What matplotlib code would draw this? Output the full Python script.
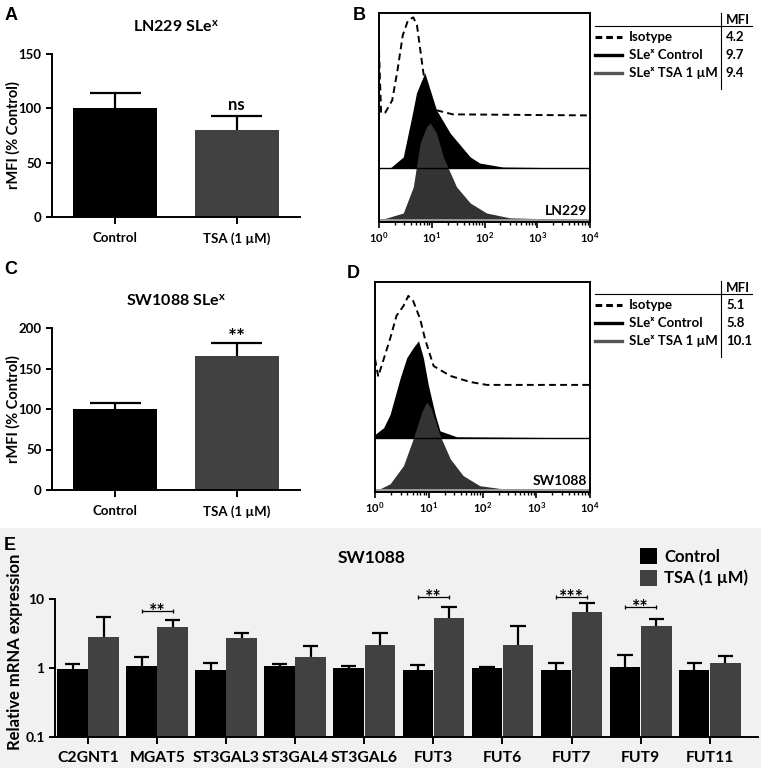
import matplotlib
matplotlib.use("Agg")
import matplotlib.pyplot as plt
import numpy as np
from matplotlib.lines import Line2D
from matplotlib.patches import Rectangle

plt.rcParams['font.family'] = ['Lato', 'DejaVu Sans']
plt.rcParams['font.weight'] = 'bold'
plt.rcParams['mathtext.fontset'] = 'custom'
plt.rcParams['mathtext.rm'] = 'Lato:bold'
plt.rcParams['mathtext.bf'] = 'Lato:bold'
plt.rcParams['mathtext.it'] = 'Lato:italic'
plt.rcParams['axes.linewidth'] = 1.4

CTRL = "black"
TSA = "#414141"
W, H = 761, 768

# ---- panels A / C : rMFI bars ----
bar_labels = ["Control", "TSA (1 µM)"]
ln229_mean = [100, 80]
ln229_top = [114, 93]
sw1088_mean = [100, 165]
sw1088_top = [108, 182]

# ---- panels B / D : flow histograms (log10 intensity, height in % of box) ----
b_iso_log = [0.0, 0.04, 0.12, 0.25, 0.35, 0.45, 0.55, 0.65, 0.72, 0.84, 0.95, 1.1, 1.4, 4.0]
b_iso_h = [31.1, 1.0, 1.4, 7.2, 21.5, 38.3, 45.5, 46.9, 43.1, 20.6, 7.2, 2.4, 0.5, 0.0]
b_ctrl_log = [0.0, 0.21, 0.46, 0.62, 0.71, 0.81, 0.87, 1.09, 1.35, 1.73, 1.91, 2.35, 4.0]
b_ctrl_h = [0.0, 0.0, 5.3, 24.4, 35.9, 42.1, 45.5, 27.8, 16.7, 5.3, 2.4, 0.5, 0.0]
b_tsa_log = [0.02, 0.46, 0.65, 0.78, 0.90, 0.97, 1.09, 1.22, 1.47, 1.73, 2.04, 2.48, 4.0]
b_tsa_h = [0.0, 3.3, 15.8, 36.8, 44.5, 46.4, 41.6, 30.1, 15.8, 8.1, 3.3, 1.0, 0.0]
b_mfi = ["4.2", "9.7", "9.4"]

d_iso_log = [0.0, 0.06, 0.28, 0.40, 0.53, 0.62, 0.71, 0.84, 0.93, 1.09, 1.40, 1.77, 2.08, 4.0]
d_iso_h = [12.4, 4.0, 21.9, 32.9, 37.6, 42.4, 40.0, 31.4, 21.9, 9.0, 4.3, 1.4, 0.0, 0.0]
d_ctrl_log = [0.0, 0.16, 0.28, 0.47, 0.59, 0.71, 0.81, 0.90, 0.99, 1.12, 1.21, 1.52, 4.0]
d_ctrl_h = [1.6, 4.8, 11.1, 28.6, 38.1, 42.9, 46.2, 38.1, 25.4, 11.1, 3.3, 0.5, 0.0]
d_tsa_log = [0.09, 0.28, 0.53, 0.71, 0.87, 0.96, 1.05, 1.21, 1.40, 1.64, 1.95, 2.38, 4.0]
d_tsa_h = [0.5, 2.9, 11.6, 24.3, 37.1, 41.9, 38.6, 25.9, 14.8, 6.8, 2.0, 0.5, 0.0]
d_mfi = ["5.1", "5.8", "10.1"]

legend_rows = ["Isotype", "SLeˣ Control", "SLeˣ TSA 1 µM"]

# ---- panel E : qPCR ----
genes = ["C2GNT1", "MGAT5", "ST3GAL3", "ST3GAL4", "ST3GAL6",
         "FUT3", "FUT6", "FUT7", "FUT9", "FUT11"]
ctrl_mean = [0.97, 1.07, 0.94, 1.07, 1.00, 0.94, 0.99, 0.93, 1.02, 0.94]
ctrl_top = [1.15, 1.44, 1.18, 1.14, 1.07, 1.10, 1.05, 1.18, 1.53, 1.20]
tsa_mean = [2.80, 3.93, 2.72, 1.44, 2.15, 5.30, 2.15, 6.50, 4.00, 1.18]
tsa_top = [5.50, 4.96, 3.20, 2.08, 3.20, 7.60, 4.06, 8.70, 5.20, 1.50]
sig_genes = ["MGAT5", "FUT3", "FUT7", "FUT9"]
sig_marks = ["**", "**", "***", "**"]
sig_y = [6.7, 10.7, 10.7, 7.6]


def rect(x0, y0, x1, y1):
    """pixel box (top-left origin) -> figure fraction rect"""
    return [x0 / W, 1 - y1 / H, (x1 - x0) / W, (y1 - y0) / H]


def fpt(x, y):
    return x / W, 1 - y / H


fig = plt.figure(figsize=(W / 100, H / 100), dpi=100)
fig.add_artist(Rectangle((0, 0), 1, 1 - 528 / H, transform=fig.transFigure,
                         facecolor="#f1f1f1", edgecolor="none", zorder=-10))


def bar_panel(box, mean, top, ymax, ystep, title, mark, mark_size, mark_dy):
    ax = fig.add_axes(rect(*box))
    x = np.arange(len(mean))
    ax.bar(x, mean, width=0.69, color=[CTRL, TSA], zorder=2)
    ax.vlines(x, mean, top, color="black", lw=1.6, zorder=3)
    ax.hlines(top, x - 0.21, x + 0.21, color="black", lw=1.6, zorder=3)
    ax.annotate(mark, (1, top[1]), xytext=(0, mark_dy), textcoords="offset points",
                ha="center", va="baseline", fontsize=mark_size, fontweight="bold")
    ax.set_xlim(-0.52, 1.52)
    ax.set_ylim(0, ymax)
    ax.set_yticks(np.arange(0, ymax + 1, ystep))
    ax.set_xticks(x)
    ax.set_xticklabels(bar_labels, fontsize=10.5, fontweight="bold")
    ax.tick_params(labelsize=9.5, width=1.4, length=4, direction="out")
    ax.tick_params(axis="x", length=5, pad=6)
    for lab in ax.get_yticklabels():
        lab.set_fontweight("bold")
    ax.spines[["top", "right"]].set_visible(False)
    ax.set_ylabel("rMFI (% Control)", fontsize=10.5, fontweight="bold")
    ax.yaxis.set_label_coords(-0.128, 0.5)
    ax.set_title(title, fontsize=11.5, fontweight="bold", pad=16)
    return ax


bar_panel((52, 54, 300, 217), ln229_mean, ln229_top, 150, 50,
          r"LN229 SLe$^{\mathbf{x}}$", "ns", 12, 4)
bar_panel((52, 328, 300, 490), sw1088_mean, sw1088_top, 200, 50,
          r"SW1088 SLe$^{\mathbf{x}}$", "**", 15, -1)


def hist_panel(box, iso, ctrl, tsa, name):
    ax = fig.add_axes(rect(*box))
    ax.set_xscale("log")
    ax.set_xlim(1, 1e4)
    ax.set_ylim(0, 100)
    iso_off, ctrl_off, tsa_off = 51.0, 25.8, 1.0
    ix = np.power(10.0, iso[0])
    ax.plot(ix, iso_off + np.array(iso[1]), ls=(0, (3.5, 2.2)), color="black", lw=1.4)
    ax.axhline(ctrl_off, color="black", lw=1.0)
    cx = np.power(10.0, ctrl[0])
    ax.fill_between(cx, ctrl_off, ctrl_off + np.array(ctrl[1]), color="black", lw=0)
    ax.axhline(tsa_off, color="#9a9a9a", lw=1.4)
    tx = np.power(10.0, tsa[0])
    ax.fill_between(tx, tsa_off, tsa_off + np.array(tsa[1]), color="#333333", lw=0)
    ax.set_yticks([])
    ax.tick_params(axis="x", which="major", direction="out", length=4, width=1.2,
                   labelsize=8, pad=2)
    ax.tick_params(axis="x", which="minor", direction="out", length=2.5, width=1.0)
    ax.text(0.985, 0.025, name, transform=ax.transAxes, ha="right", va="bottom",
            fontsize=10, fontweight="bold")
    return ax


hist_panel((379, 13, 590, 222), (b_iso_log, b_iso_h), (b_ctrl_log, b_ctrl_h),
           (b_tsa_log, b_tsa_h), "LN229")
hist_panel((375, 282, 590, 492), (d_iso_log, d_iso_h), (d_ctrl_log, d_ctrl_h),
           (d_tsa_log, d_tsa_h), "SW1088")


def legend_table(top, mfi):
    styles = [dict(color="black", ls=(0, (2.2, 1.3)), lw=2.2),
              dict(color="black", ls="-", lw=2.4),
              dict(color="#555555", ls="-", lw=2.4)]
    hy = top + 13
    fig.add_artist(Line2D([595 / W, 752 / W], [1 - hy / H] * 2,
                          transform=fig.transFigure, color="black", lw=0.8))
    fig.add_artist(Line2D([721 / W] * 2, [1 - top / H, 1 - (top + 76) / H],
                          transform=fig.transFigure, color="black", lw=0.8))
    fig.text(*fpt(726, top + 7), "MFI", fontsize=9.5, fontweight="bold", va="center")
    for i, (name, val) in enumerate(zip(legend_rows, mfi)):
        y = top + 24 + 18 * i
        fig.add_artist(Line2D([595 / W, 622 / W], [1 - y / H] * 2,
                              transform=fig.transFigure, **styles[i]))
        fig.text(*fpt(629, y), name, fontsize=9.5, fontweight="bold", va="center",
                 family=["Lato", "DejaVu Sans"])
        fig.text(*fpt(726, y), val, fontsize=9.5, fontweight="bold", va="center")


legend_table(13, b_mfi)
legend_table(281, d_mfi)

# ---- panel E ----
axe = fig.add_axes(rect(55, 599, 758, 737))
axe.set_facecolor("none")
xg = np.arange(len(genes))
bw = 0.445
axe.bar(xg - 0.225, ctrl_mean, width=bw, color=CTRL, label="Control", zorder=2)
axe.bar(xg + 0.225, tsa_mean, width=bw, color=TSA, label="TSA (1 µM)", zorder=2)
for off, m, t in ((-0.225, ctrl_mean, ctrl_top), (0.225, tsa_mean, tsa_top)):
    axe.vlines(xg + off, m, t, color="black", lw=1.6, zorder=3)
    axe.hlines(t, xg + off - 0.11, xg + off + 0.11, color="black", lw=1.6, zorder=3)
axe.set_yscale("log")
axe.set_ylim(0.1, 10)
axe.set_xlim(-0.48, 9.7)
axe.set_yticks([0.1, 1, 10])
axe.set_yticklabels(["0.1", "1", "10"], fontsize=10, fontweight="bold")
axe.yaxis.set_minor_locator(matplotlib.ticker.NullLocator())
axe.set_xticks(xg)
axe.set_xticklabels(genes, fontsize=11.3, fontweight="bold")
axe.tick_params(width=1.4, length=4, direction="out")
axe.tick_params(axis="x", length=5, pad=5)
axe.spines[["top", "right"]].set_visible(False)
axe.set_ylabel("Relative mRNA expression", fontsize=12, fontweight="bold")
axe.yaxis.set_label_coords(-0.046, 0.62)
for g, mk, yv in zip(sig_genes, sig_marks, sig_y):
    i = genes.index(g)
    x0, x1 = i - 0.225, i + 0.225
    axe.plot([x0, x1], [yv, yv], color="black", lw=0.9, clip_on=False)
    axe.vlines([x0, x1], yv * 0.93, yv * 1.07, color="black", lw=0.9, clip_on=False)
    axe.annotate(mk, (i, yv), xytext=(0, -4.5), textcoords="offset points",
                 ha="center", va="baseline", fontsize=14, fontweight="bold",
                 annotation_clip=False)
fig.text(*fpt(372, 558), "SW1088", fontsize=12.5, fontweight="bold",
         ha="center", va="center")
axe.legend(loc="upper left", bbox_to_anchor=fpt(640, 548),
           bbox_transform=fig.transFigure, frameon=False, borderpad=0,
           borderaxespad=0, handlelength=1.0, handleheight=1.1, handletextpad=0.45,
           labelspacing=0.3, prop={"weight": "bold", "size": 12})

# panel letters
for letter, (px, py) in zip("ABCDE", [(11, 15), (359, 15), (11, 270), (353, 273), (10, 546)]):
    fig.text(*fpt(px, py), letter, fontsize=13, fontweight="bold", ha="center",
             va="center", family="Liberation Sans")

fig.savefig("out.png", dpi=100)
